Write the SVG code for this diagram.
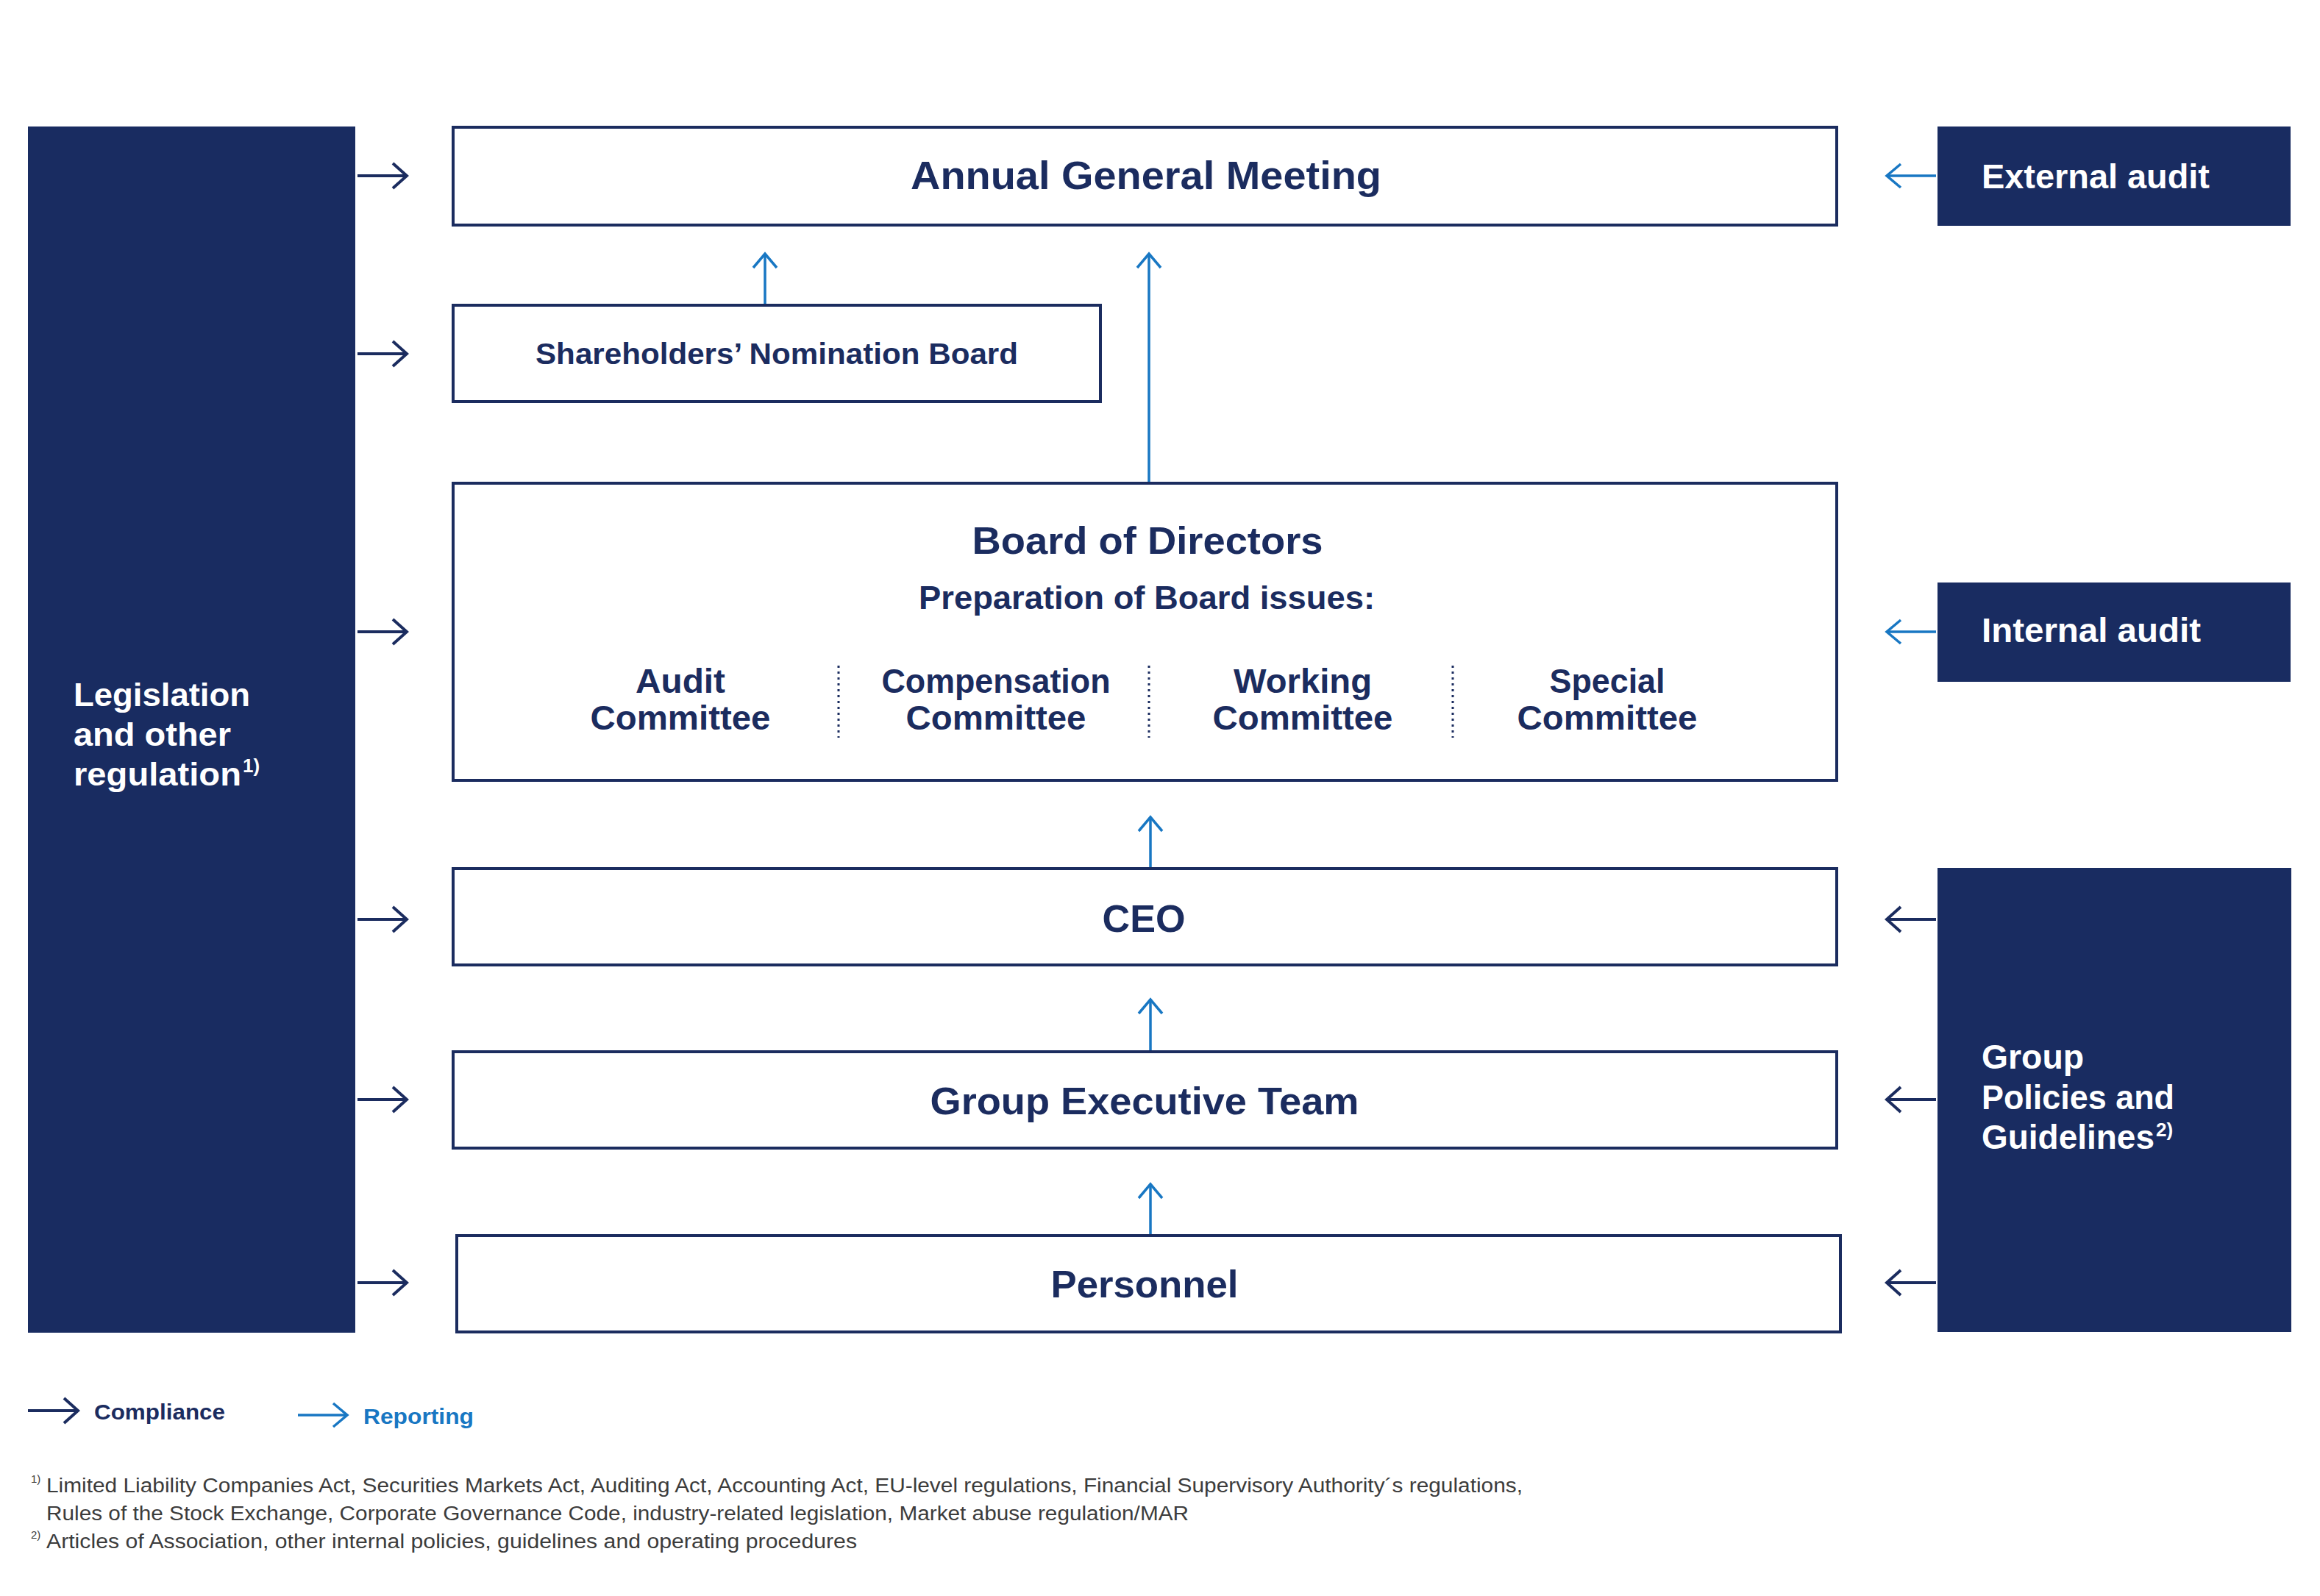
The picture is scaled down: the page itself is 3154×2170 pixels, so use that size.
<svg xmlns="http://www.w3.org/2000/svg" width="3154" height="2170" viewBox="0 0 3154 2170">
<defs>
<style>
.box{fill:#ffffff;stroke:#1b2c5f;stroke-width:4}
.panel{fill:#192c61}
.t{font-family:"Liberation Sans",Arial,sans-serif;font-weight:bold;fill:#1b2c5f}
.w{font-family:"Liberation Sans",Arial,sans-serif;font-weight:bold;fill:#ffffff}
.fn{font-family:"Liberation Sans",Arial,sans-serif;font-weight:normal;fill:#3c3c3c}
.comp{stroke:#1b2c5f;stroke-width:4;fill:none}
.rep{stroke:#1877c3;stroke-width:3.5;fill:none}
.dots{stroke:#1b2c5f;stroke-width:3;stroke-dasharray:3 5;fill:none}
</style>
<marker id="hc" markerUnits="userSpaceOnUse" markerWidth="40" markerHeight="40" viewBox="-22 -20 26 40" refX="0" refY="0" orient="auto">
<path d="M -19 -17 L 0 0 L -19 17" fill="none" stroke="#1b2c5f" stroke-width="4"/>
</marker>
<marker id="hr" markerUnits="userSpaceOnUse" markerWidth="40" markerHeight="40" viewBox="-22 -20 26 40" refX="0" refY="0" orient="auto">
<path d="M -19 -16 L 0 0 L -19 16" fill="none" stroke="#1877c3" stroke-width="3.5"/>
</marker>
</defs>
<rect width="3154" height="2170" fill="#ffffff"/>

<g id="legislation">
<rect class="panel" x="38" y="172" width="445" height="1640"/>
<text class="w" x="100" y="960" font-size="45" textLength="240" lengthAdjust="spacingAndGlyphs">Legislation</text>
<text class="w" x="100" y="1014" font-size="45" textLength="214" lengthAdjust="spacingAndGlyphs">and other</text>
<text class="w" x="100" y="1068" font-size="45" textLength="228" lengthAdjust="spacingAndGlyphs">regulation</text>
<text class="w" x="330" y="1050" font-size="26">1)</text>
</g>

<g id="agm">
<rect class="box" x="616" y="173" width="1881" height="133"/>
<text class="t" x="1558" y="257" font-size="54" text-anchor="middle" textLength="640" lengthAdjust="spacingAndGlyphs">Annual General Meeting</text>
</g>

<g id="snb">
<rect class="box" x="616" y="415" width="880" height="131"/>
<text class="t" x="1056" y="495" font-size="40" text-anchor="middle" textLength="656" lengthAdjust="spacingAndGlyphs">Shareholders’ Nomination Board</text>
</g>

<g id="board">
<rect class="box" x="616" y="657" width="1881" height="404"/>
<text class="t" x="1560" y="753" font-size="52" text-anchor="middle" textLength="477" lengthAdjust="spacingAndGlyphs">Board of Directors</text>
<text class="t" x="1559" y="828" font-size="44" text-anchor="middle" textLength="620" lengthAdjust="spacingAndGlyphs">Preparation of Board issues:</text>
<text class="t" x="925" y="942" font-size="46" text-anchor="middle" textLength="122" lengthAdjust="spacingAndGlyphs">Audit</text>
<text class="t" x="925" y="992" font-size="46" text-anchor="middle" textLength="245" lengthAdjust="spacingAndGlyphs">Committee</text>
<text class="t" x="1354" y="942" font-size="46" text-anchor="middle" textLength="311" lengthAdjust="spacingAndGlyphs">Compensation</text>
<text class="t" x="1354" y="992" font-size="46" text-anchor="middle" textLength="245" lengthAdjust="spacingAndGlyphs">Committee</text>
<text class="t" x="1771" y="942" font-size="46" text-anchor="middle" textLength="188" lengthAdjust="spacingAndGlyphs">Working</text>
<text class="t" x="1771" y="992" font-size="46" text-anchor="middle" textLength="245" lengthAdjust="spacingAndGlyphs">Committee</text>
<text class="t" x="2185" y="942" font-size="46" text-anchor="middle" textLength="157" lengthAdjust="spacingAndGlyphs">Special</text>
<text class="t" x="2185" y="992" font-size="46" text-anchor="middle" textLength="245" lengthAdjust="spacingAndGlyphs">Committee</text>
<line class="dots" x1="1140" y1="905" x2="1140" y2="1003"/>
<line class="dots" x1="1562" y1="905" x2="1562" y2="1003"/>
<line class="dots" x1="1975" y1="905" x2="1975" y2="1003"/>
</g>

<g id="ceo">
<rect class="box" x="616" y="1181" width="1881" height="131"/>
<text class="t" x="1555" y="1267" font-size="52" text-anchor="middle" textLength="113" lengthAdjust="spacingAndGlyphs">CEO</text>
</g>

<g id="get">
<rect class="box" x="616" y="1430" width="1881" height="131"/>
<text class="t" x="1556" y="1515" font-size="52" text-anchor="middle" textLength="583" lengthAdjust="spacingAndGlyphs">Group Executive Team</text>
</g>

<g id="personnel">
<rect class="box" x="621" y="1680" width="1881" height="131"/>
<text class="t" x="1556" y="1764" font-size="52" text-anchor="middle" textLength="255" lengthAdjust="spacingAndGlyphs">Personnel</text>
</g>

<g id="external-audit">
<rect class="panel" x="2634" y="172" width="480" height="135"/>
<text class="w" x="2694" y="256" font-size="46" textLength="310" lengthAdjust="spacingAndGlyphs">External audit</text>
</g>

<g id="internal-audit">
<rect class="panel" x="2634" y="792" width="480" height="135"/>
<text class="w" x="2694" y="873" font-size="46" textLength="298" lengthAdjust="spacingAndGlyphs">Internal audit</text>
</g>

<g id="group-policies">
<rect class="panel" x="2634" y="1180" width="481" height="631"/>
<text class="w" x="2694" y="1453" font-size="46" textLength="139" lengthAdjust="spacingAndGlyphs">Group</text>
<text class="w" x="2694" y="1508" font-size="46" textLength="262" lengthAdjust="spacingAndGlyphs">Policies and</text>
<text class="w" x="2694" y="1562" font-size="46" textLength="235" lengthAdjust="spacingAndGlyphs">Guidelines</text>
<text class="w" x="2931" y="1545" font-size="26">2)</text>
</g>

<g id="connectors">
<line class="comp" x1="486" y1="239" x2="553" y2="239" marker-end="url(#hc)"/>
<line class="comp" x1="486" y1="481" x2="553" y2="481" marker-end="url(#hc)"/>
<line class="comp" x1="486" y1="859" x2="553" y2="859" marker-end="url(#hc)"/>
<line class="comp" x1="486" y1="1250" x2="553" y2="1250" marker-end="url(#hc)"/>
<line class="comp" x1="486" y1="1495" x2="553" y2="1495" marker-end="url(#hc)"/>
<line class="comp" x1="486" y1="1744" x2="553" y2="1744" marker-end="url(#hc)"/>
<line class="rep" x1="2632" y1="239" x2="2565" y2="239" marker-end="url(#hr)"/>
<line class="rep" x1="2632" y1="859" x2="2565" y2="859" marker-end="url(#hr)"/>
<line class="comp" x1="2632" y1="1250" x2="2565" y2="1250" marker-end="url(#hc)"/>
<line class="comp" x1="2632" y1="1495" x2="2565" y2="1495" marker-end="url(#hc)"/>
<line class="comp" x1="2632" y1="1744" x2="2565" y2="1744" marker-end="url(#hc)"/>
<line class="rep" x1="1040" y1="413" x2="1040" y2="345" marker-end="url(#hr)"/>
<line class="rep" x1="1562" y1="655" x2="1562" y2="345" marker-end="url(#hr)"/>
<line class="rep" x1="1564" y1="1179" x2="1564" y2="1111" marker-end="url(#hr)"/>
<line class="rep" x1="1564" y1="1428" x2="1564" y2="1359" marker-end="url(#hr)"/>
<line class="rep" x1="1564" y1="1678" x2="1564" y2="1610" marker-end="url(#hr)"/>
</g>

<g id="legend">
<line class="comp" x1="38" y1="1918" x2="106" y2="1918" marker-end="url(#hc)"/>
<text class="t" x="128" y="1930" font-size="30" textLength="178" lengthAdjust="spacingAndGlyphs">Compliance</text>
<line class="rep" x1="405" y1="1924" x2="472" y2="1924" marker-end="url(#hr)"/>
<text class="t" x="494" y="1936" font-size="30" fill="#1877c3" style="fill:#1877c3" textLength="150" lengthAdjust="spacingAndGlyphs">Reporting</text>
</g>

<g id="footnotes">
<text class="fn" x="42" y="2016" font-size="15">1)</text>
<text class="fn" x="63" y="2029" font-size="27" textLength="2007" lengthAdjust="spacingAndGlyphs">Limited Liability Companies Act, Securities Markets Act, Auditing Act, Accounting Act, EU-level regulations, Financial Supervisory Authority´s regulations,</text>
<text class="fn" x="63" y="2067" font-size="27" textLength="1553" lengthAdjust="spacingAndGlyphs">Rules of the Stock Exchange, Corporate Governance Code, industry-related legislation, Market abuse regulation/MAR</text>
<text class="fn" x="42" y="2092" font-size="15">2)</text>
<text class="fn" x="63" y="2105" font-size="27" textLength="1102" lengthAdjust="spacingAndGlyphs">Articles of Association, other internal policies, guidelines and operating procedures</text>
</g>
</svg>
